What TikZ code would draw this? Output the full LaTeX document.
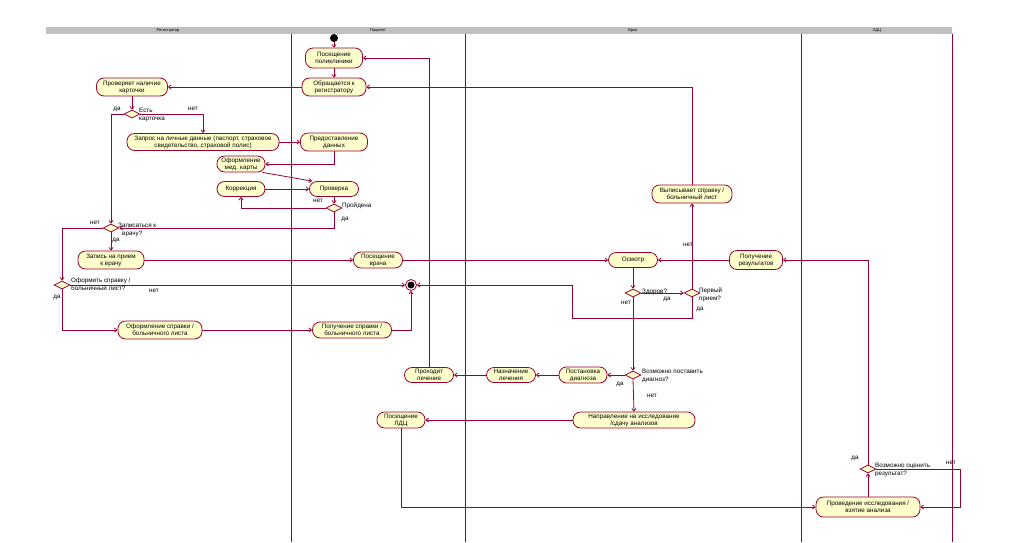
\documentclass[tikz,border=0pt]{standalone}
\usepackage{fontspec}
\setmainfont{Liberation Sans}
\usetikzlibrary{shapes.geometric,arrows.meta}
\definecolor{rose}{RGB}{153,0,51}
\definecolor{actfill}{RGB}{255,255,204}
\definecolor{hdrgray}{RGB}{192,192,192}
\begin{document}
\begin{tikzpicture}[x=1pt,y=-1pt,
 act/.style={draw=rose, fill=actfill, rounded corners=7.5pt, align=center, font=\fontsize{6.3}{7}\selectfont, inner sep=0pt, line width=0.8pt},
 sz/.style 2 args={minimum width=#1pt, minimum height=#2pt},
 dec/.style={draw=rose, fill=actfill, diamond, minimum width=16pt, minimum height=8pt, inner sep=0pt, line width=0.8pt},
 lbl/.style={font=\fontsize{6.3}{7.5}\selectfont, align=left, inner sep=0pt, anchor=north west},
 yn/.style={font=\fontsize{6.3}{7}\selectfont, inner sep=0pt},
 hdr/.style={font=\fontsize{4}{4}\selectfont, inner sep=0pt},
 flow/.style={draw=rose, line width=0.8pt, -{Straight Barb[length=2.5pt,width=4pt]}},
 lane/.style={draw=rose, line width=0.9pt}]
\useasboundingbox (0,0) rectangle (1017,542);
% swimlanes
\fill[hdrgray] (46,27) rectangle (952,34);
\node[hdr] (h1) at (168,30.5) {Регистратор};
\node[hdr] (h2) at (378,30.5) {Пациент};
\node[hdr] (h3) at (633,30.5) {Врач};
\node[hdr] (h4) at (877,30.5) {ЛДЦ};
\draw[lane] (291,34) -- (291,542);
\draw[lane] (465,34) -- (465,542);
\draw[lane] (801,34) -- (801,542);
\draw[lane] (952,34) -- (952,542);
% nodes
\node[circle, fill=black, minimum size=8pt, inner sep=0pt] (start) at (334,38) {};
\node[circle, draw=rose, fill=white, minimum size=11pt, inner sep=0pt, line width=0.8pt,
  path picture={\fill[black] (path picture bounding box.center) circle (3.5pt);}] (end) at (411,285) {};
\node[act,sz={57}{20}] (pos) at (334,58) {Посещение\\поликлиники};
\node[act,sz={64}{18}] (obr) at (334,87) {Обращается к\\регистратору};
\node[act,sz={71}{18}] (prover) at (132,87) {Проверяет наличие\\карточки};
\node[dec] (d1) at (132,114) {};
\node[act,sz={152}{17}] (zapros) at (203,142) {Запрос на личные данные (паспорт, страховое\\свидетельство, страховой полис)};
\node[act,sz={67}{18}] (pred) at (334,142) {Предоставление\\данных};
\node[act,sz={48}{16}] (oform) at (241,164) {Оформление\\мед. карты};
\node[act,sz={48}{15}] (korr) at (241,189) {Коррекция};
\node[act,sz={49}{15}] (prov) at (334,189) {Проверка};
\node[dec] (d2) at (334,208) {};
\node[dec] (d3) at (111,228) {};
\node[act,sz={66}{18}] (zapis) at (111,260) {Запись на прием\\к врачу};
\node[dec] (d4) at (62,285) {};
\node[act,sz={84}{18}] (ofspr) at (160,330) {Оформление справки /\\больничного листа};
\node[act,sz={49}{16}] (posvr) at (378,260) {Посещение\\врача};
\node[act,sz={79}{16}] (polspr) at (352,330) {Получение справки /\\больничного листа};
\node[act,sz={49}{15}] (osm) at (633,260) {Осмотр};
\node[dec] (d5) at (633,293) {};
\node[dec] (d6) at (692,293) {};
\node[act,sz={80}{18}] (vyp) at (692,194) {Выписывает справку /\\больничный лист};
\node[act,sz={53}{19}] (polres) at (756,260) {Получение\\результатов};
\node[dec] (d7) at (633,375) {};
\node[act,sz={48}{16}] (post) at (583,375) {Постановка\\диагноза};
\node[act,sz={49}{15}] (nazn) at (511,375) {Назначение\\лечения};
\node[act,sz={49}{15}] (prohod) at (429,375) {Проходит\\лечение};
\node[act,sz={122}{16}] (napr) at (634,420) {Направление на исследование\\/сдачу анализов};
\node[act,sz={48}{16}] (ldc) at (401,420) {Посещение\\ЛДЦ};
\node[act,sz={104}{20}] (prov2) at (868,507) {Проведение исследования /\\взятие анализа};
\node[dec] (d8) at (868,469) {};
\coordinate (c1) at (572,318);
\coordinate (c2) at (960,469);
% connectors
\draw[flow] (start) -- (pos.north);
\draw[flow] (pos.south) -- (obr.north);
\draw[flow] (obr.west) -- (prover.east);
\draw[flow] (vyp.north) |- (obr.east);
\draw[flow] (prohod.north) |- (pos.east);
\draw[flow] (prover.south) -- (d1.north);
\draw[flow] (d1.west) -| (d3.north);
\draw[flow] (d1.east) -| (zapros.north);
\draw[flow] (zapros.east) -- (pred.west);
\draw[flow] (pred.south) |- (oform.east);
\draw[flow] ([xshift=-3pt]oform.south east) -- ([xshift=3pt]prov.north west);
\draw[flow] (korr.east) -- (prov.west);
\draw[flow] (prov.south) -- (d2.north);
\draw[flow] (d2.west) -| (korr.south);
\draw[flow] (d2.south) |- (d3.east);
\draw[flow] (d3.south) -- (zapis.north);
\draw[flow] (d3.west) -| (d4.north);
\draw[flow] (zapis.east) -- (posvr.west);
\draw[flow] (posvr.east) -- (osm.west);
\draw[flow] (d4.east) -- (end.west);
\draw[flow] (d4.south) |- (ofspr.west);
\draw[flow] (ofspr.east) -- (polspr.west);
\draw[flow] (polspr.east) -| (end.south);
\draw[flow] (osm.south) -- (d5.north);
\draw[flow] (d5.east) -- (d6.west);
\draw[flow] (d5.south) -- (d7.north);
\draw[flow] (d6.north) -- (vyp.south);
\draw[flow] (d6.south) |- (c1) |- (end.east);
\draw[flow] (d7.west) -- (post.east);
\draw[flow] (post.west) -- (nazn.east);
\draw[flow] (nazn.west) -- (prohod.east);
\draw[flow] (d7.south) -- (napr.north);
\draw[flow] (napr.west) -- (ldc.east);
\draw[flow] (ldc.south) |- (prov2.west);
\draw[flow] (prov2.north) -- (d8.south);
\draw[flow] (d8.east) -- (c2) |- (prov2.east);
\draw[flow] (d8.north) |- (polres.east);
\draw[flow] (polres.west) -- (osm.east);
% guard labels
\node[lbl] (g1) at (139,108) {Есть\\карточка};
\node[lbl, anchor=west] (g2) at (342,206) {Пройдена};
\node[lbl] (g3) at (118,223) {Записаться к\\\hspace*{4pt}врачу?};
\node[lbl] (g4) at (71,278) {Оформить справку /\\больничный лист?};
\node[lbl, anchor=west] (g5) at (642,292) {Здоров?};
\node[lbl] (g6) at (699,288) {Первый\\прием?};
\node[lbl] (g7) at (642,369) {Возможно поставить\\диагноз?};
\node[lbl] (g8) at (875,463) {Возможно оценить\\результат?};
% yes / no
\node[yn] (y1) at (117,109) {да};
\node[yn] (n1) at (193,109) {нет};
\node[yn] (n2) at (318,201) {нет};
\node[yn] (y2) at (345,219) {да};
\node[yn] (n3) at (95,223) {нет};
\node[yn] (y3) at (116,240) {да};
\node[yn] (y4) at (57,297) {да};
\node[yn] (n4) at (154,291) {нет};
\node[yn] (n5) at (626,303) {нет};
\node[yn] (y5) at (667,299) {да};
\node[yn] (n6) at (688,245) {нет};
\node[yn] (y6) at (700,309) {да};
\node[yn] (y7) at (620,384) {да};
\node[yn] (n7) at (652,396) {нет};
\node[yn] (y8) at (855,458) {да};
\node[yn] (n8) at (951,463) {нет};
\end{tikzpicture}
\end{document}
